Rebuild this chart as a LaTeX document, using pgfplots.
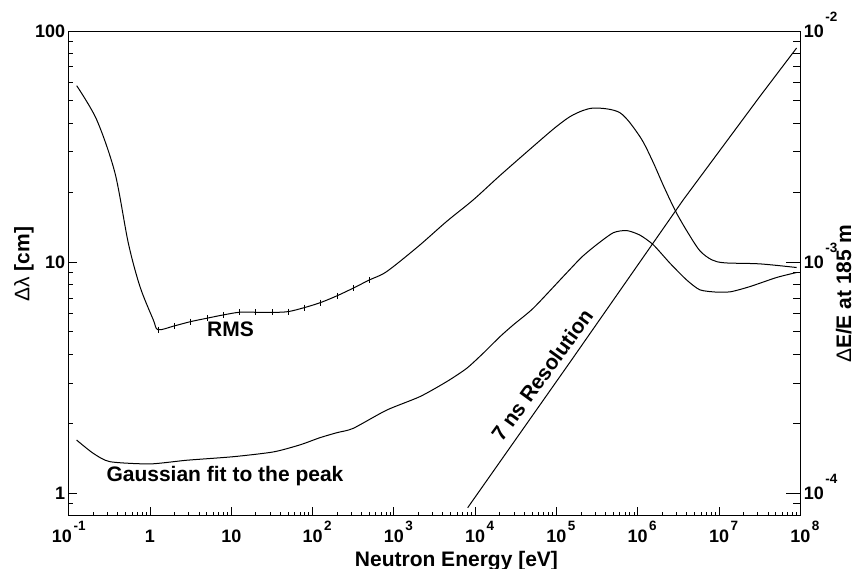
\documentclass[border=0pt]{standalone}
\usepackage{fontspec}
\setmainfont{Liberation Sans}
\usepackage{pgfplots}
\pgfplotsset{compat=1.18}
\newcommand{\tickfont}{\fontsize{18bp}{20bp}\selectfont\bfseries}
\newcommand{\labfont}{\fontsize{21bp}{25bp}\selectfont\bfseries}
\newcommand{\pw}[2][12bp]{10\rlap{\smash{\raisebox{#1}{\fontsize{13.5bp}{14bp}\selectfont\kern1.5bp #2}}}}
\begin{document}
\begin{tikzpicture}
\useasboundingbox (-68.7bp,-53.3bp) rectangle (786.3bp,515.7bp);
\begin{axis}[
  at={(0,0)}, anchor=south west,
  scale only axis, width=731.6bp, height=484.7bp,
  xmode=log, ymode=log,
  xmin=0.1, xmax=1e8, ymin=0.8, ymax=100,
  axis x line*=bottom, axis y line*=left,
  axis line style={-, line width=1.5bp},
  tick align=inside,
  major tick length=8.5bp, minor tick length=4.2bp,
  every tick/.style={black, line width=0.8bp},
  xtick={0.1,1,10,100,1e3,1e4,1e5,1e6,1e7,1e8},
  xticklabels={\hbox{\kern-13.4bp 10}\rlap{\smash{\raisebox{12bp}{\fontsize{13.5bp}{14bp}\selectfont\kern1.5bp -1}}},1,10,\pw{2},\pw{3},\pw{4},\pw{5},\pw{6},\pw{7},\pw{8}},
  minor xtick={0.2,0.3,0.4,0.5,0.6,0.7,0.8,0.9,2,3,4,5,6,7,8,9,20,30,40,50,60,70,80,90,200,300,400,500,600,700,800,900,2e3,3e3,4e3,5e3,6e3,7e3,8e3,9e3,2e4,3e4,4e4,5e4,6e4,7e4,8e4,9e4,2e5,3e5,4e5,5e5,6e5,7e5,8e5,9e5,2e6,3e6,4e6,5e6,6e6,7e6,8e6,9e6,2e7,3e7,4e7,5e7,6e7,7e7,8e7,9e7},
  ytick={1,10,100}, yticklabels={1,10,100},
  minor ytick={0.8,0.9,2,3,4,5,6,7,8,9,20,30,40,50,60,70,80,90},
  xticklabel style={anchor=base, yshift=-27bp, font=\tickfont, inner sep=0pt},
  yticklabel style={font=\tickfont},
  xlabel={Neutron Energy [eV]},
  xlabel style={at={(axis description cs:0.530,-0.1052)}, anchor=base, font=\labfont, inner sep=0pt},
  ylabel={{\mdseries Δλ} [cm]},
  ylabel style={at={(axis description cs:-0.0536,0.519)}, anchor=base, font=\labfont, inner sep=0pt},
]
% RMS curve
\addplot[black, line width=1bp, smooth, tension=0.5] coordinates {
(0.1254,58.0) (0.221,41.3) (0.371,24.3) (0.541,12.1) (0.753,7.84) (1.098,5.63)
(1.259,5.10) (1.995,5.30) (3.162,5.53) (5.012,5.72)
(7.943,5.91) (12.59,6.07) (19.95,6.07) (31.62,6.06) (50.12,6.11) (79.43,6.36)
(125.9,6.69) (199.5,7.15) (316.2,7.72) (501.2,8.38) (815,9.10) (1995,11.7)
(4460,15.0) (9480,18.6) (20200,23.7) (51900,31.7) (1.0e5,38.6) (1.61e5,43.4)
(2.84e5,46.4) (6.04e5,44.3) (1.06e6,35.0) (1.50e6,27.7)
(2.10e6,21.2) (2.95e6,16.5) (4.15e6,13.4) (5.82e6,11.2) (8.18e6,10.23)
(1.18e7,9.93) (3.18e7,9.83) (9.0e7,9.48)};
% RMS error-bar ticks
\addplot[black, only marks, mark=|, mark size=3bp, mark options={line width=0.6bp}] coordinates {
(1.259,5.10) (1.995,5.30) (3.162,5.53) (5.012,5.72) (7.943,5.91) (12.59,6.07)
(19.95,6.07) (31.62,6.06) (50.12,6.11) (79.43,6.36) (125.9,6.69) (199.5,7.15)
(316.2,7.72) (501.2,8.38)};
% Gaussian fit curve
\addplot[black, line width=1bp, smooth, tension=0.4] coordinates {
(0.125,1.70) (0.2,1.49) (0.322,1.37) (1.0,1.34) (2.83,1.39) (10.6,1.44)
(32.9,1.51) (70,1.62) (123,1.74) (200,1.83) (316,1.91) (815,2.29) (2094,2.62)
(4460,3.04) (7850,3.47) (12600,4.04) (20200,4.76) (29400,5.35) (51900,6.32)
(1.21e5,8.66) (2.04e5,10.5) (3.12e5,11.9) (5.0e5,13.4) (7.3e5,13.7)
(1.06e6,13.1) (1.55e6,11.9) (2.49e6,9.90) (3.99e6,8.38) (5.82e6,7.59)
(9.33e6,7.42) (1.4e7,7.45) (2.4e7,7.84) (5.1e7,8.58) (9.0e7,9.02)};
% 7 ns resolution line
\addplot[black, line width=1bp] coordinates {
(8090,0.866) (1.54e5,3.78) (3.63e6,18.6) (3.18e7,52.1) (9.0e7,84.4)};
\draw[line width=0.8bp] (rel axis cs:0,1) -- (rel axis cs:1,1);
\node[font=\labfont, anchor=base, inner sep=0pt] at (axis description cs:0.2212,0.3693) {RMS};
\node[font=\labfont, anchor=base, inner sep=0pt] at (axis description cs:0.2136,0.0701) {Gaussian fit to the peak};
\node[font=\labfont, rotate=54, inner sep=0pt] at (axis description cs:0.647,0.2903) {7 ns Resolution};
\end{axis}
\begin{axis}[
  at={(0,0)}, anchor=south west,
  scale only axis, width=731.6bp, height=484.7bp,
  xmode=log, ymode=log,
  xmin=0.1, xmax=1e8, ymin=0.8e-4, ymax=1e-2,
  axis x line=none, axis y line*=right,
  axis line style={-, line width=1.5bp},
  tick align=inside,
  major tick length=14.5bp, minor tick length=7bp,
  every tick/.style={black, line width=0.8bp},
  ytick={1e-4,1e-3,1e-2},
  yticklabels={\pw[16bp]{-4},\pw[16bp]{-3},\pw[16bp]{-2}},
  minor ytick={8e-5,9e-5,2e-4,3e-4,4e-4,5e-4,6e-4,7e-4,8e-4,9e-4,2e-3,3e-3,4e-3,5e-3,6e-3,7e-3,8e-3,9e-3},
  yticklabel style={font=\tickfont, anchor=west},
  ylabel={{\mdseries Δ}E/E at 185 m},
  ylabel style={at={(axis description cs:1.0693,0.4574)}, anchor=base, font=\labfont, inner sep=0pt},
]
\addplot[draw=none] coordinates {(1,1e-3)};
\end{axis}
\end{tikzpicture}
\end{document}
